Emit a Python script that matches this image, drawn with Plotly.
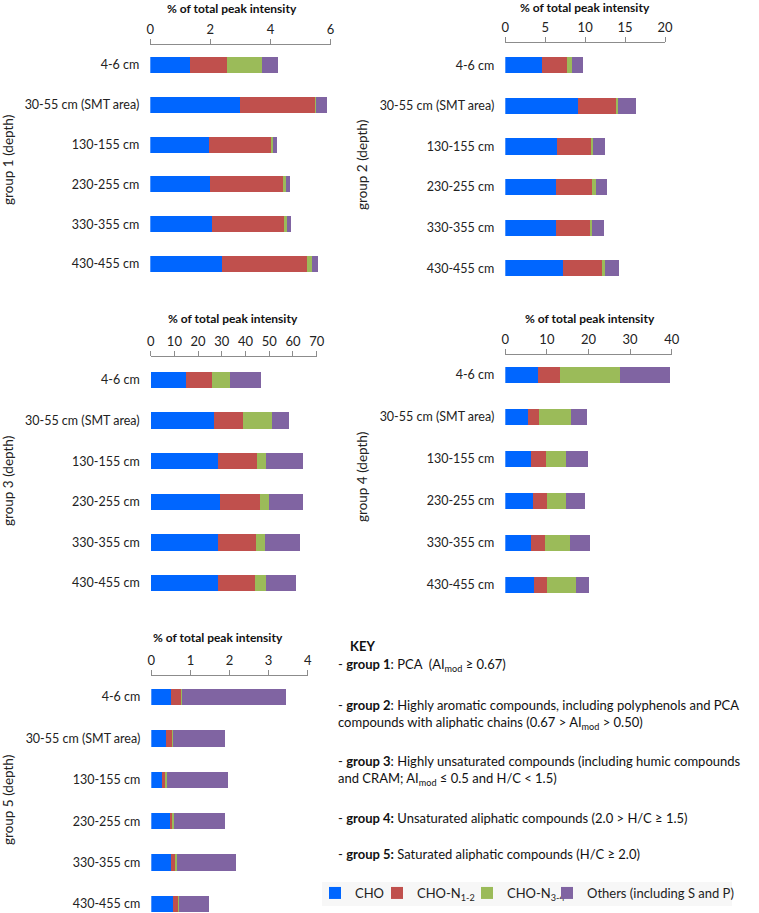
import plotly.graph_objects as go

W, H = 759, 913

depths = ["4-6 cm", "30-55 cm (SMT area)", "130-155 cm", "230-255 cm", "330-355 cm", "430-455 cm"]
series_names = ["CHO", "CHO-N<sub>1-2</sub>", "CHO-N<sub>3-4</sub>", "Others (including S and P)"]
colors = ["#0066FF", "#C0504D", "#9BBB59", "#8064A2"]

# group 1 (PCA)
g1_cho = [1.33, 2.99, 1.97, 1.99, 2.06, 2.40]
g1_n12 = [1.21, 2.51, 2.07, 2.42, 2.38, 2.83]
g1_n34 = [1.19, 0.02, 0.06, 0.11, 0.12, 0.15]
g1_oth = [0.51, 0.36, 0.11, 0.14, 0.13, 0.19]
# group 2
g2_cho = [4.59, 9.06, 6.47, 6.35, 6.30, 7.18]
g2_n12 = [3.13, 4.76, 4.30, 4.55, 4.31, 4.93]
g2_n34 = [0.63, 0.25, 0.21, 0.42, 0.25, 0.42]
g2_oth = [1.42, 2.34, 1.55, 1.41, 1.50, 1.67]
# group 3
g3_cho = [14.9, 26.8, 28.4, 29.4, 28.3, 28.4]
g3_n12 = [11.0, 12.1, 16.6, 16.6, 16.0, 15.6]
g3_n34 = [7.4, 12.3, 3.6, 3.8, 4.1, 4.5]
g3_oth = [13.4, 7.3, 15.8, 14.4, 14.7, 12.6]
# group 4
g4_cho = [7.78, 5.37, 6.09, 6.65, 6.09, 6.89]
g4_n12 = [5.37, 2.81, 3.61, 3.29, 3.45, 3.21]
g4_n34 = [14.35, 7.69, 4.81, 4.73, 6.09, 6.83]
g4_oth = [12.2, 3.69, 5.29, 4.57, 4.65, 3.19]
# group 5
g5_cho = [0.51, 0.375, 0.27, 0.47, 0.51, 0.56]
g5_n12 = [0.26, 0.17, 0.10, 0.08, 0.12, 0.15]
g5_n34 = [0.02, 0.02, 0.03, 0.02, 0.02, 0.01]
g5_oth = [2.66, 1.32, 1.56, 1.32, 1.51, 0.76]

groups = [
    [g1_cho, g1_n12, g1_n34, g1_oth],
    [g2_cho, g2_n12, g2_n34, g2_oth],
    [g3_cho, g3_n12, g3_n34, g3_oth],
    [g4_cho, g4_n12, g4_n34, g4_oth],
    [g5_cho, g5_n12, g5_n34, g5_oth],
]
x_max = [6, 20, 70, 40, 4]
x_dtick = [2, 5, 10, 10, 1]
group_titles = ["group 1 (depth)", "group 2 (depth)", "group 3 (depth)", "group 4 (depth)", "group 5 (depth)"]

# panel geometry in pixels: x0, x1, axis line y, first bar centre, spacing, bottom
geom = [
    (150.3, 330.5, 45, 65, 39.8, 284),
    (505.3, 665.0, 43, 65.3, 40.6, 288),
    (150.7, 316.7, 357, 380, 40.6, 603),
    (505.3, 671.7, 355, 375, 42.0, 606),
    (151.3, 307.7, 676, 697, 41.4, 913),
]
title_pos = [(232, 9), (585, 7), (232.5, 318), (589.5, 318), (218, 637)]
ytitle_pos = [(8, 160), (362, 165), (8, 481), (362, 477), (8, 800)]
legend_x = [315, 377, 467, 547]

FONT = "Lato"
fig = go.Figure()


def px_x(p):
    return p / W


def px_y(p):
    return 1 - p / H


annotations = []
for gi in range(5):
    xa = "x" if gi == 0 else f"x{gi+1}"
    ya = "y" if gi == 0 else f"y{gi+1}"
    for si in range(4):
        fig.add_trace(go.Bar(
            y=list(range(len(depths))), x=groups[gi][si], orientation="h",
            marker=dict(color=colors[si], line=dict(width=0)),
            name=series_names[si], legendgroup=series_names[si],
            legend="legend" if si == 0 else f"legend{si+1}",
            showlegend=(gi == 0), xaxis=xa, yaxis=ya,
        ))
    x0, x1, top, c0, s, bottom = geom[gi]
    lo = -(c0 - top) / s
    hi = (bottom - c0) / s
    xkey = "xaxis" if gi == 0 else f"xaxis{gi+1}"
    ykey = "yaxis" if gi == 0 else f"yaxis{gi+1}"
    fig.layout[xkey] = dict(
        domain=[px_x(x0), px_x(x1)], anchor=ya, side="top", automargin=False,
        range=[0, x_max[gi]], dtick=x_dtick[gi], tick0=0,
        showgrid=False, zeroline=False, showline=True, linecolor="#8c8c8c", linewidth=1,
        ticks="outside", ticklen=5, tickcolor="#8c8c8c",
        tickfont=dict(family=FONT, size=13, color="#222"), fixedrange=True,
    )
    fig.layout[ykey] = dict(
        domain=[px_y(bottom), px_y(top)], anchor=xa, automargin=False,
        range=[hi, lo], tickmode="array", tickvals=list(range(len(depths))), ticktext=depths,
        showgrid=False, zeroline=False, showline=False, ticks="",
        ticklabelstandoff=10,
        tickfont=dict(family=FONT, size=12.5, color="#222"), fixedrange=True,
    )
    tx, ty = title_pos[gi]
    annotations.append(dict(text="<b>% of total peak intensity</b>", x=px_x(tx), y=px_y(ty),
                            xref="paper", yref="paper", showarrow=False,
                            xanchor="center", yanchor="middle",
                            font=dict(family=FONT, size=12, color="#111")))
    gx, gy = ytitle_pos[gi]
    annotations.append(dict(text=group_titles[gi], x=px_x(gx), y=px_y(gy),
                            xref="paper", yref="paper", showarrow=False, textangle=-90,
                            xanchor="center", yanchor="middle",
                            font=dict(family=FONT, size=13.5, color="#222")))

key_lines = [
    ("<b>KEY</b>", 348, 646),
    ("- <b>group 1</b>: PCA  (AI<sub>mod</sub> ≥ 0.67)", 336, 665),
    ("- <b>group 2</b>: Highly aromatic compounds, including polyphenols and PCA", 336, 705),
    ("compounds with aliphatic chains (0.67 > AI<sub>mod</sub> > 0.50)", 336, 723),
    ("- <b>group 3</b>: Highly unsaturated compounds (including humic compounds", 336, 761),
    ("and CRAM; AI<sub>mod</sub> ≤ 0.5 and H/C < 1.5)", 336, 779),
    ("- <b>group 4:</b> Unsaturated aliphatic compounds (2.0 > H/C ≥ 1.5)", 336, 818),
    ("- <b>group 5:</b> Saturated aliphatic compounds (H/C ≥ 2.0)", 336, 854),
]
for txt, kx, ky in key_lines:
    annotations.append(dict(text=txt, x=px_x(kx), y=px_y(ky), xref="paper", yref="paper",
                            showarrow=False, xanchor="left", yanchor="middle",
                            font=dict(family=FONT, size=13, color="#111")))

layout_kw = dict(
    width=W, height=H, margin=dict(l=0, r=0, t=0, b=0, autoexpand=False),
    paper_bgcolor="white", plot_bgcolor="white",
    barmode="stack", bargap=0.6,
    annotations=annotations,
    showlegend=True,
    shapes=[dict(type="rect", xref="paper", yref="paper", layer="below",
                 x0=px_x(322), x1=px_x(732), y0=px_y(906), y1=px_y(882),
                 fillcolor="#f7f7f7", line=dict(width=0))],
)
for si in range(4):
    key = "legend" if si == 0 else f"legend{si+1}"
    layout_kw[key] = dict(orientation="h", x=px_x(legend_x[si]), y=px_y(893),
                          xanchor="left", yanchor="middle", bgcolor="rgba(0,0,0,0)",
                          font=dict(family=FONT, size=13, color="#222"), itemwidth=30)
fig.update_layout(**layout_kw)

fig.write_html("out.html", post_script="document.body.style.margin='0';",
               config={"displayModeBar": False})
